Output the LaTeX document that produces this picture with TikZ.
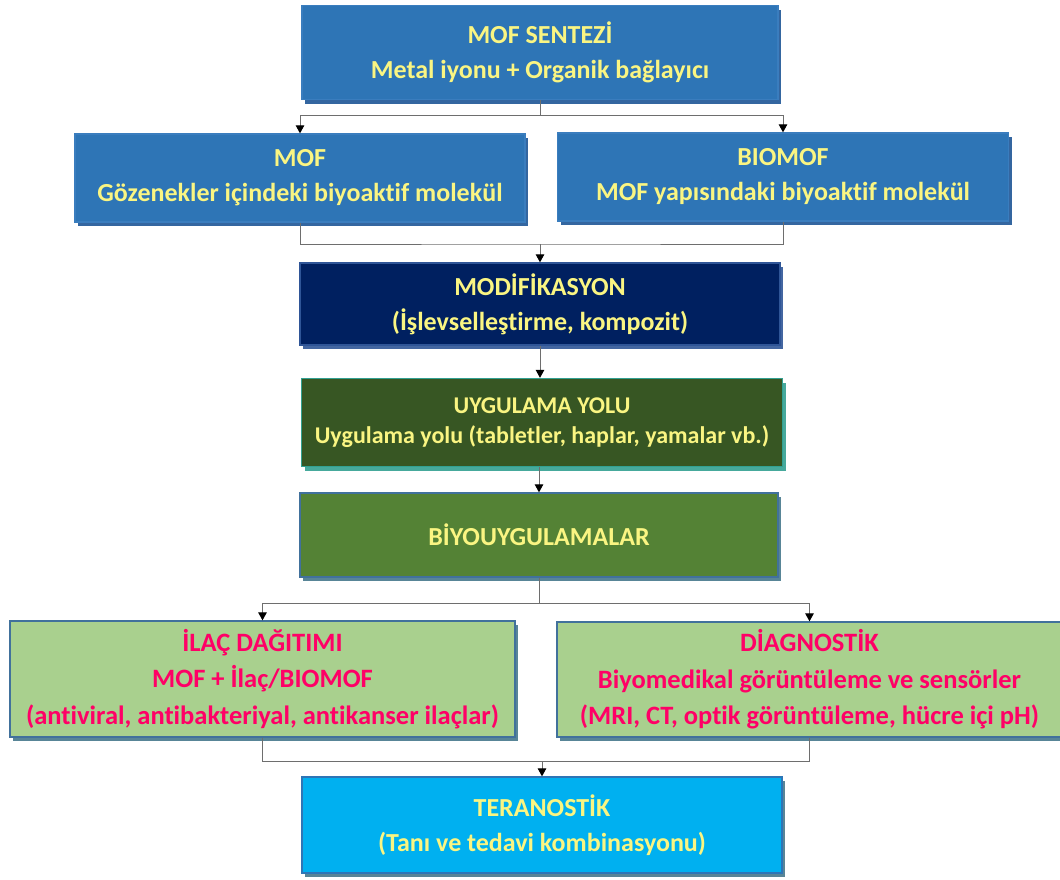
\documentclass[tikz,border=0pt]{standalone}
\usepackage{fontspec}
\setmainfont{Carlito}[Ligatures=NoCommon]
\usetikzlibrary{arrows.meta,shadows}
\definecolor{boxblue}{RGB}{46,117,182}
\definecolor{blueedge}{RGB}{58,125,190}
\definecolor{blueshadow}{RGB}{30,85,150}
\definecolor{navy}{RGB}{0,32,96}
\definecolor{navyedge}{RGB}{47,85,151}
\definecolor{olive}{RGB}{55,86,35}
\definecolor{tealedge}{RGB}{50,160,145}
\definecolor{midgreen}{RGB}{84,130,53}
\definecolor{greenedge}{RGB}{65,113,156}
\definecolor{lightgreen}{RGB}{169,208,142}
\definecolor{skyblue}{RGB}{0,176,240}
\definecolor{paleyellow}{RGB}{250,245,130}
\definecolor{hotpink}{RGB}{255,0,102}
\definecolor{greyshadow}{RGB}{70,120,140}
\definecolor{lineclr}{RGB}{110,110,110}
\tikzset{
  flowbox/.style={draw, line width=1.3pt, align=center, inner sep=0pt,
    font=\bfseries\fontsize{26}{35}\selectfont, text=paleyellow},
  shad/.style={drop shadow={shadow xshift=3pt, shadow yshift=-4pt, fill=#1, opacity=0.9}},
  bluebox/.style={flowbox, fill=boxblue, draw=blueedge, shad=blueshadow},
  navybox/.style={flowbox, fill=navy, draw=navyedge, shad=navyedge},
  olivebox/.style={flowbox, fill=olive, draw=tealedge, shad=tealedge,
    font=\bfseries\fontsize{24}{30}\selectfont},
  greenbox/.style={flowbox, fill=midgreen, draw=greenedge, shad=greyshadow},
  lgbox/.style={flowbox, fill=lightgreen, draw=greenedge, text=hotpink, shad=greyshadow,
    font=\bfseries\fontsize{26.5}{36.5}\selectfont},
  skybox/.style={flowbox, fill=skyblue, draw=boxblue, shad=greyshadow},
  conn/.style={draw=lineclr, line width=1pt},
  arr/.style={-{Triangle[width=8.5pt,length=8pt,color=black]}}
}
\begin{document}
\begin{tikzpicture}[x=1pt,y=-1pt]
\useasboundingbox (0,0) rectangle (1060,879);

\node[bluebox, minimum width=476pt, minimum height=94pt] (sent) at (540,52.5)
  {MOF SENTEZİ\\Metal iyonu + Organik bağlayıcı};
\node[bluebox, minimum width=450pt, minimum height=88pt] (mof) at (300,178)
  {MOF\\Gözenekler içindeki biyoaktif molekül};
\node[bluebox, minimum width=451pt, minimum height=88pt] (bio) at (783,177)
  {BIOMOF\\MOF yapısındaki biyoaktif molekül};
\node[navybox, minimum width=480pt, minimum height=82pt] (mod) at (540,304)
  {MODİFİKASYON\\(İşlevselleştirme, kompozit)};
\node[olivebox, minimum width=481pt, minimum height=88pt] (uyg) at (542,422.5)
  {UYGULAMA YOLU\\Uygulama yolu (tabletler, haplar, yamalar vb.)};
\node[greenbox, minimum width=478pt, minimum height=84pt] (biyo) at (539,535)
  {BİYOUYGULAMALAR};
\node[lgbox, minimum width=505pt, minimum height=116pt] (ilac) at (262.5,679)
  {İLAÇ DAĞITIMI\\MOF + İlaç/BIOMOF\\(antiviral, antibakteriyal, antikanser ilaçlar)};
\node[lgbox, minimum width=505pt, minimum height=115pt] (diag) at (809.5,679.5)
  {DİAGNOSTİK\\Biyomedikal görüntüleme ve sensörler\\(MRI, CT, optik görüntüleme, hücre içi pH)};
\node[skybox, minimum width=480pt, minimum height=96pt] (ter) at (542,825)
  {TERANOSTİK\\(Tanı ve tedavi kombinasyonu)};

% split after synthesis
\coordinate (s1) at (540,115);
\draw[conn] (sent.south) -- (s1);
\draw[conn,arr] (s1) -| (mof.north);
\draw[conn,arr] (s1) -| (bio.north);

% merge into modification
\coordinate (m1) at (540,244);
\draw[conn] (mof.south) |- (m1) -| (bio.south);
\draw[conn,arr] (m1) -- (mod.north);

\draw[conn,arr] (mod.south) -- (uyg.north -| mod.south);
\draw[conn,arr] (uyg.south -| biyo.north) -- (biyo.north);

% split after bioapplications
\coordinate (s2) at (539,603);
\draw[conn] (biyo.south) -- (s2);
\draw[conn,arr] (s2) -| (ilac.north);
\draw[conn,arr] (s2) -| (diag.north);

% merge into theranostics
\coordinate (m2) at (542,761);
\draw[conn] (ilac.south) |- (m2) -| (diag.south);
\draw[conn,arr] (m2) -- (ter.north);
\end{tikzpicture}
\end{document}
